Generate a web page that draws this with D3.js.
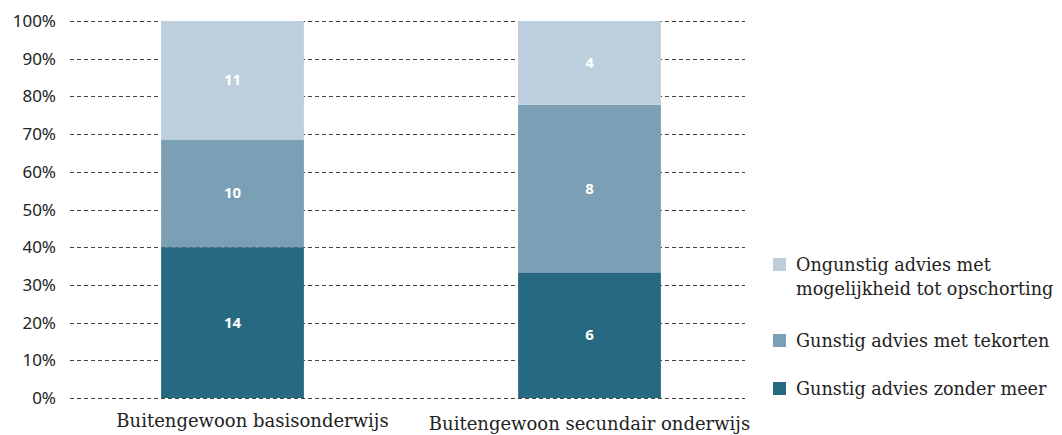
<!DOCTYPE html>
<html>
<head>
<meta charset="utf-8">
<script src="https://cdn.jsdelivr.net/npm/d3@7"></script>
<style>
  body { margin: 0; background: #fff; }
</style>
</head>
<body>
<script>
const categories = ["Buitengewoon basisonderwijs", "Buitengewoon secundair onderwijs"];
const seriesNames = [
  "Gunstig advies zonder meer",
  "Gunstig advies met tekorten",
  "Ongunstig advies met mogelijkheid tot opschorting"
];
const zonderMeer = [14, 6];
const metTekorten = [10, 8];
const ongunstig = [11, 4];
const colors = ["#276980", "#7b9fb5", "#bdcfdc"];
const yTicks = [0, 0.1, 0.2, 0.3, 0.4, 0.5, 0.6, 0.7, 0.8, 0.9, 1];

const width = 1062, height = 435;
const svg = d3.select("body").append("svg")
  .attr("width", width)
  .attr("height", height);

const rows = categories.map((c, i) => {
  const total = zonderMeer[i] + metTekorten[i] + ongunstig[i];
  return { cat: c, vals: [zonderMeer[i], metTekorten[i], ongunstig[i]], total };
});

const y = d3.scaleLinear().domain([0, 1]).range([398, 21]);
const x = d3.scaleBand().domain(categories).range([54, 768])
  .paddingInner(0.6).paddingOuter(0.3);

// grid lines
svg.append("g")
  .selectAll("line")
  .data(yTicks)
  .enter()
  .append("line")
  .attr("x1", 70)
  .attr("x2", 745)
  .attr("y1", d => Math.round(y(d)) + 0.5)
  .attr("y2", d => Math.round(y(d)) + 0.5)
  .attr("stroke", "#444")
  .attr("stroke-width", 1)
  .attr("stroke-dasharray", "4,3");

// y tick labels
svg.append("g")
  .selectAll("text")
  .data(yTicks)
  .enter()
  .append("text")
  .attr("x", 56)
  .attr("y", d => y(d) + 6)
  .attr("text-anchor", "end")
  .attr("font-family", "Noto Sans")
  .attr("font-size", 17)
  .attr("fill", "#222")
  .text(d => Math.round(d * 100) + "%");

// stacked bars
rows.forEach(r => {
  let acc = 0;
  r.vals.forEach((v, k) => {
    const y0 = acc / r.total, y1 = (acc + v) / r.total;
    acc += v;
    svg.append("rect")
      .attr("x", x(r.cat))
      .attr("width", x.bandwidth())
      .attr("y", y(y1))
      .attr("height", y(y0) - y(y1))
      .attr("fill", colors[k]);
    svg.append("text")
      .attr("x", x(r.cat) + x.bandwidth() / 2)
      .attr("y", y((y0 + y1) / 2) + 5)
      .attr("text-anchor", "middle")
      .attr("font-family", "Noto Sans")
      .attr("font-weight", "bold")
      .attr("font-size", 15)
      .attr("fill", "#fff")
      .text(v);
  });
});

// category labels (first one sits a bit right of its bar in the original)
svg.append("g")
  .selectAll("text")
  .data(categories)
  .enter()
  .append("text")
  .attr("x", d => x(d) + x.bandwidth() / 2)
  .attr("dx", (d, i) => (i === 0 ? 20 : 0))
  .attr("y", (d, i) => 427 + i * 3)
  .attr("text-anchor", "middle")
  .attr("font-family", "DejaVu Serif")
  .attr("font-size", 18)
  .attr("fill", "#222")
  .text(d => d);

// legend
const legendItems = [
  { name: seriesNames[2], color: colors[2], lines: ["Ongunstig advies met", "mogelijkheid tot opschorting"], y: 265 },
  { name: seriesNames[1], color: colors[1], lines: [seriesNames[1]], y: 341 },
  { name: seriesNames[0], color: colors[0], lines: [seriesNames[0]], y: 389 }
];
const legend = svg.append("g").attr("class", "legend");
legendItems.forEach(it => {
  legend.append("rect")
    .attr("x", 773)
    .attr("y", it.y - 7)
    .attr("width", 13)
    .attr("height", 13)
    .attr("fill", it.color);
  const t = legend.append("text")
    .attr("font-family", "DejaVu Serif")
    .attr("font-size", 17.6)
    .attr("fill", "#222");
  it.lines.forEach((l, j) => {
    t.append("tspan")
      .attr("x", 796)
      .attr("y", it.y + 6 + j * 24)
      .text(l);
  });
});
</script>
</body>
</html>
